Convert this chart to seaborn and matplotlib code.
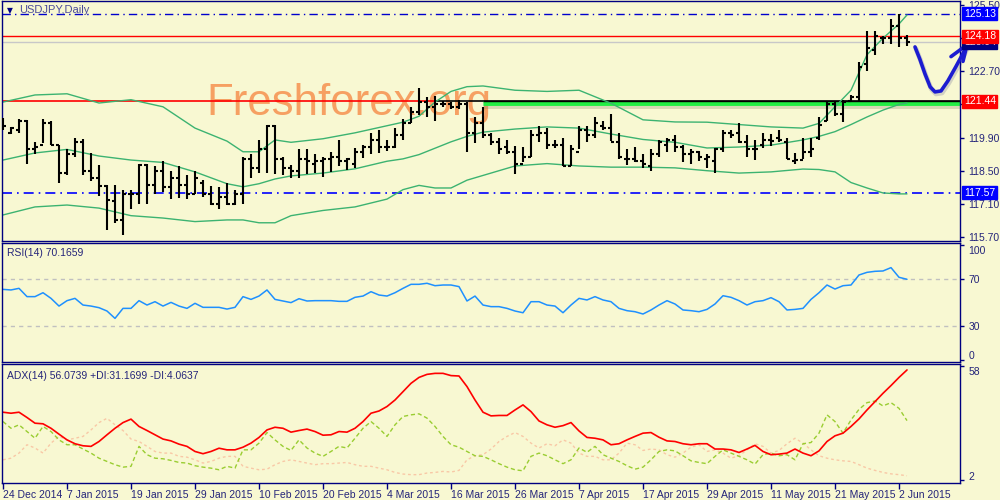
import numpy as np
import matplotlib
matplotlib.use("Agg")
import matplotlib.pyplot as plt
import matplotlib.transforms as mtransforms
import seaborn as sns

# USDJPY daily bars, 24 Dec 2014 .. 3 Jun 2015
opens = [120.6, 120.1, 120.2, 120.6, 119.4, 119.6, 120.5, 119.6, 118.4, 119.2,
         119.7, 118.5, 118.2, 117.85, 117.2, 116.4, 117.5, 117.5, 118.75, 117.9,
         118.5, 117.8, 118.2, 117.9, 117.5, 118.0, 117.5, 117.1, 117.4, 117.1,
         117.5, 119.0, 118.6, 119.4, 120.4, 119.0, 118.6, 118.5, 119.0, 118.8,
         118.9, 119.0, 119.1, 118.9, 118.8, 119.3, 119.5, 119.8, 119.5, 119.5,
         120.0, 120.5, 121.0, 121.4, 121.2, 121.3, 121.3, 121.2, 121.3, 120.1,
         120.5, 120.0, 119.7, 119.5, 119.3, 118.8, 119.1, 120.0, 120.1, 119.6,
         119.6, 118.7, 119.3, 120.2, 120.0, 120.4, 120.3, 119.7, 119.0, 119.0,
         118.9, 118.7, 119.2, 119.6, 119.8, 119.5, 119.2, 119.3, 119.0, 118.9,
         119.4, 120.1, 120.1, 119.7, 119.4, 119.6, 119.8, 119.9, 119.7, 118.9,
         118.95, 119.3, 119.9, 120.6, 121.3, 120.9, 121.45, 121.6, 123.0, 123.6,
         124.1, 124.1, 124.6, 124.1]
highs = [120.71, 120.35, 120.68, 120.64, 119.7, 120.68, 120.6, 119.6, 119.4, 119.9,
         119.84, 119.25, 118.74, 117.9, 117.9, 117.7, 117.7, 118.8, 118.78, 118.7,
         118.9, 118.5, 118.7, 118.3, 118.5, 118.1, 117.85, 117.8, 118.0, 117.7,
         119.1, 119.2, 119.8, 120.45, 120.45, 119.1, 118.75, 119.4, 119.4, 119.2,
         119.1, 119.3, 119.8, 119.05, 119.46, 119.6, 120.1, 120.2, 119.8, 120.3,
         120.7, 121.2, 122.0, 121.6, 121.65, 121.45, 121.4, 121.5, 121.4, 120.75,
         121.2, 120.1, 119.9, 119.8, 119.55, 119.5, 120.2, 120.4, 120.3, 119.8,
         119.9, 119.6, 120.4, 120.4, 120.75, 120.6, 120.9, 120.1, 119.4, 119.5,
         119.2, 119.4, 119.8, 119.9, 120.0, 119.6, 119.4, 119.35, 119.2, 119.45,
         120.2, 120.2, 120.5, 120.0, 119.8, 120.1, 120.05, 120.2, 119.9, 119.25,
         119.9, 119.9, 120.77, 121.44, 121.4, 121.49, 121.7, 123.1, 124.4, 124.4,
         124.2, 124.9, 125.13, 124.22]
lows = [120.22, 120.05, 120.1, 118.8, 119.2, 119.67, 119.6, 118.0, 118.3, 119.1,
        118.3, 118.07, 117.43, 116.0, 116.3, 115.78, 116.9, 117.1, 117.1, 117.5,
        117.6, 117.3, 117.35, 117.3, 117.5, 117.4, 117.05, 116.9, 117.05, 117.05,
        117.1, 118.2, 118.4, 118.4, 118.35, 118.3, 118.2, 118.2, 118.35, 118.4,
        118.25, 118.45, 118.7, 118.55, 118.6, 119.05, 119.2, 119.25, 119.35, 119.45,
        119.8, 120.5, 120.85, 120.75, 120.6, 121.2, 121.1, 121.1, 119.3, 119.65,
        119.9, 119.6, 119.2, 119.2, 118.35, 118.85, 119.1, 119.7, 119.4, 119.45,
        118.7, 118.7, 119.4, 119.7, 119.9, 120.2, 119.75, 119.0, 118.75, 118.85,
        118.6, 118.5, 119.1, 119.3, 119.3, 118.85, 118.8, 118.9, 118.6, 118.4,
        119.3, 119.9, 119.65, 119.1, 118.95, 119.45, 119.55, 119.7, 119.0, 118.8,
        119.0, 119.1, 119.8, 120.6, 120.8, 120.56, 121.4, 121.4, 122.7, 123.4,
        123.85, 123.85, 123.73, 123.76]
closes = [120.4, 120.3, 120.6, 119.4, 119.5, 120.5, 119.6, 118.4, 119.2, 119.7,
          118.5, 118.2, 117.85, 117.26, 116.4, 117.5, 117.5, 118.75, 117.9, 118.5,
          117.8, 118.2, 117.9, 117.5, 118.2, 117.5, 117.1, 117.4, 117.1, 117.5,
          119.0, 118.6, 119.4, 120.4, 119.0, 118.6, 118.5, 119.0, 118.9, 118.9,
          119.0, 119.1, 118.9, 119.0, 119.3, 119.5, 119.8, 119.5, 119.5, 120.0,
          120.5, 121.0, 121.4, 121.2, 121.3, 121.3, 121.2, 121.3, 120.1, 120.5,
          120.0, 119.7, 119.4, 119.3, 118.8, 119.1, 120.0, 120.1, 119.6, 119.6,
          118.7, 119.4, 120.2, 120.0, 120.5, 120.3, 119.7, 119.1, 119.0, 118.9,
          118.8, 119.2, 119.7, 119.8, 119.5, 119.2, 119.3, 119.1, 119.1, 119.4,
          120.1, 120.0, 119.7, 119.4, 119.4, 119.8, 119.75, 119.8, 119.0, 118.95,
          119.3, 119.4, 120.45, 121.3, 120.9, 121.4, 121.6, 122.9, 123.7, 124.2,
          124.1, 124.6, 124.1, 123.94]

# Bollinger bands (20), read at selected bars
bb_idx = [0, 4, 8, 12, 16, 20, 24, 28, 30, 32, 34, 36, 40, 44, 48, 50, 52, 54, 56, 58,
          60, 64, 68, 72, 76, 80, 84, 88, 92, 96, 100, 102, 104, 106, 108, 110, 112, 113]
bb_upper = [121.4, 121.7, 121.75, 121.36, 121.5, 121.2, 120.3, 119.75, 119.3, 119.3,
            119.8, 119.7, 119.85, 120.1, 120.4, 120.55, 120.8, 121.4, 121.85, 122.05,
            122.08, 121.9, 121.85, 121.9, 121.35, 120.65, 120.56, 120.55, 120.45, 120.35,
            120.3, 120.5, 121.2, 121.9, 123.4, 124.1, 124.7, 125.08]
bb_mid = [118.95, 119.25, 119.4, 119.12, 118.95, 118.85, 118.45, 117.95, 117.82, 117.95,
          118.15, 118.28, 118.4, 118.58, 118.9, 119.0, 119.18, 119.45, 119.72, 119.95,
          120.13, 120.26, 120.35, 120.3, 120.05, 119.82, 119.7, 119.46, 119.5, 119.58,
          119.8, 119.95, 120.15, 120.45, 120.77, 121.06, 121.3, 121.36]
bb_lower = [116.63, 116.97, 117.05, 116.92, 116.6, 116.5, 116.35, 116.42, 116.42, 116.3,
            116.3, 116.6, 116.82, 116.97, 117.3, 117.7, 117.88, 117.77, 117.77, 118.1,
            118.3, 118.7, 118.8, 118.7, 118.65, 118.65, 118.62, 118.5, 118.4, 118.45,
            118.57, 118.55, 118.45, 118.0, 117.77, 117.56, 117.52, 117.52]

rsi = [61.4, 60.9, 62.3, 55.1, 55.1, 58.5, 53.6, 46.9, 51.6, 53.6,
       47.8, 46.9, 45.5, 42.6, 36.2, 44.9, 44.9, 51.6, 47.8, 50.7,
       46.9, 50.1, 46.9, 44.9, 49.3, 45.8, 45.8, 45.8, 44.3, 45.8,
       55.1, 52.7, 55.6, 60.9, 52.7, 51.3, 49.9, 53.3, 51.3, 51.6,
       51.6, 51.6, 51.0, 51.0, 54.5, 55.6, 59.4, 56.5, 55.6, 58.5,
       62.3, 65.8, 65.8, 66.7, 64.6, 65.2, 65.2, 63.8, 51.3, 55.6,
       47.8, 46.4, 46.4, 44.9, 42.6, 41.1, 50.7, 50.7, 47.8, 46.9,
       41.1, 47.8, 53.6, 52.2, 55.1, 52.2, 50.7, 44.9, 42.9, 42.0,
       40.0, 43.5, 47.8, 51.6, 48.7, 43.5, 42.9, 42.0, 44.0, 48.7,
       55.9, 54.5, 51.6, 47.8, 50.7, 51.6, 54.2, 50.7, 43.5, 44.0,
       44.9, 52.7, 58.5, 65.2, 61.7, 64.6, 65.2, 73.9, 76.2, 77.1,
       77.4, 80.3, 71.9, 70.17]

adx = [35.3, 34.8, 35.3, 32.7, 29.9, 29.6, 27.4, 24.5, 21.7, 19.8,
       18.8, 18.5, 20.9, 24.2, 27.4, 30.2, 31.9, 28.3, 26.3, 24.2,
       22.1, 21.2, 19.6, 18.5, 16.0, 14.9, 16.0, 17.6, 16.8, 16.8,
       18.1, 20.1, 22.9, 26.6, 27.9, 27.4, 25.5, 26.3, 27.0, 25.8,
       24.0, 24.2, 25.8, 25.5, 27.4, 30.7, 34.8, 35.9, 38.1, 41.3,
       45.4, 49.5, 52.4, 53.9, 54.4, 54.4, 53.3, 53.1, 47.9, 41.3,
       35.3, 33.5, 33.7, 33.7, 36.4, 38.9, 35.6, 31.0, 29.1, 27.9,
       28.7, 30.2, 26.1, 22.9, 22.5, 21.7, 19.3, 19.8, 21.7, 23.4,
       25.0, 25.3, 23.0, 21.2, 20.9, 19.8, 19.3, 19.8, 19.8, 17.2,
       17.2, 16.8, 15.5, 17.2, 19.0, 16.0, 14.4, 14.7, 15.2, 17.2,
       15.2, 13.9, 16.3, 20.9, 23.7, 25.0, 28.3, 32.0, 36.4, 40.5,
       44.6, 48.4, 52.4, 56.07]
plus_di = [30.7, 27.4, 29.1, 25.8, 22.5, 28.3, 25.8, 21.7, 19.3, 19.3,
           17.2, 15.2, 12.7, 11.1, 9.5, 8.3, 8.7, 18.5, 14.4, 12.7,
           12.4, 11.6, 10.6, 10.3, 9.0, 8.3, 7.8, 7.0, 8.7, 7.8,
           16.8, 16.8, 20.1, 25.3, 21.7, 18.5, 16.5, 21.7, 17.7, 15.2,
           13.6, 16.0, 18.5, 17.7, 22.5, 27.4, 30.7, 27.4, 23.4, 29.1,
           33.2, 34.0, 34.5, 32.4, 28.3, 23.4, 19.3, 18.1, 16.0, 13.9,
           13.6, 11.9, 10.0, 8.3, 7.0, 6.5, 13.6, 15.2, 13.9, 11.9,
           10.0, 11.9, 17.7, 15.6, 18.5, 14.4, 12.7, 11.1, 9.0, 7.3,
           8.3, 11.9, 16.0, 16.8, 16.3, 13.9, 11.4, 10.6, 10.0, 13.6,
           16.8, 15.2, 13.6, 11.9, 9.8, 14.4, 15.2, 13.9, 14.4, 11.9,
           19.8, 20.4, 25.0, 34.0, 30.7, 25.0, 31.5, 36.7, 40.0, 40.8,
           38.4, 40.0, 37.2, 31.17]
minus_di = [11.9, 12.7, 15.2, 19.3, 17.7, 15.2, 20.1, 23.4, 21.7, 22.5,
            23.4, 26.6, 30.2, 32.3, 29.1, 26.3, 22.1, 20.9, 18.5, 16.0,
            15.2, 15.2, 13.6, 13.2, 11.9, 10.3, 11.1, 12.7, 13.6, 13.6,
            8.7, 7.8, 7.0, 7.3, 9.5, 11.1, 11.9, 11.1, 10.3, 9.5,
            10.0, 10.0, 10.3, 10.6, 9.5, 8.7, 8.7, 7.8, 7.0, 5.7,
            4.9, 4.6, 4.6, 5.4, 5.7, 6.2, 5.9, 6.7, 11.9, 13.9,
            14.4, 17.2, 20.9, 23.4, 25.3, 23.4, 20.1, 17.7, 19.8, 18.8,
            21.7, 20.1, 15.2, 13.6, 13.6, 11.9, 11.9, 15.2, 20.1, 19.3,
            16.5, 17.2, 16.8, 14.4, 13.2, 15.2, 18.1, 19.3, 16.0, 16.8,
            15.2, 12.7, 13.9, 16.8, 19.8, 18.5, 15.2, 16.5, 19.8, 22.5,
            20.1, 16.8, 13.9, 12.7, 11.9, 11.4, 11.1, 9.5, 7.8, 6.7,
            5.7, 5.0, 4.6, 4.06]

date_labels = ['24 Dec 2014', '7 Jan 2015', '19 Jan 2015', '29 Jan 2015', '10 Feb 2015',
               '20 Feb 2015', '4 Mar 2015', '16 Mar 2015', '26 Mar 2015', '7 Apr 2015',
               '17 Apr 2015', '29 Apr 2015', '11 May 2015', '21 May 2015', '2 Jun 2015']
date_idx = [0, 8, 16, 24, 32, 40, 48, 56, 64, 72, 80, 88, 96, 104, 112]

price_ticks = [125.50, 124.10, 122.70, 121.30, 119.90, 118.50, 117.10, 115.70]
# ticks hidden behind the level boxes carry no text
price_labels = ['125.50', '', '122.70', '', '119.90', '118.50', '117.10', '115.70']
# horizontal levels drawn by hand on the chart
level_high = 125.13
level_res = 124.18
level_bid = 123.94
level_sup = 121.44
level_low = 117.57

# hand-drawn forecast arrow (bar, price)
arrow_x = [114.0, 114.6, 115.25, 115.9, 116.5, 117.25, 118.1, 119.1, 119.9, 120.5]
arrow_y = [123.73, 123.22, 122.59, 122.04, 121.83, 121.87, 122.29, 122.89, 123.39, 123.82]
head_x = [118.5, 120.5, 120.0]
head_y = [123.32, 123.82, 123.12]

BG = '#f8f8d2'
NAVY = '#000080'
TXT = '#24247a'

sns.set_style('white', {'axes.facecolor': BG, 'figure.facecolor': BG})
plt.rcParams['font.family'] = ['Liberation Sans', 'DejaVu Sans']

fig = plt.figure(figsize=(10, 5), dpi=100)
fig.patch.set_facecolor(BG)
ax = fig.add_axes([0.002, 0.518, 0.958, 0.48])
ax_rsi = fig.add_axes([0.002, 0.276, 0.958, 0.238], sharex=ax)
ax_adx = fig.add_axes([0.002, 0.034, 0.958, 0.238], sharex=ax)

idx = np.arange(len(closes))


def nudge_labels(a, shifts):
    # move the right-hand tick labels vertically by a few pixels (MT4 keeps them inside)
    for lab, dy in zip(a.get_yticklabels(), shifts):
        lab.set_transform(lab.get_transform() +
                          mtransforms.ScaledTranslation(0, dy / 100, fig.dpi_scale_trans))


# ---- main price panel ----
ax.text(25.4, 120.85, 'Freshforex.org', color='#f6a062', fontsize=31.5,
        va='baseline', zorder=0.5)

sns.lineplot(x=bb_idx, y=bb_upper, ax=ax, color='#3cb371', lw=1)
sns.lineplot(x=bb_idx, y=bb_mid, ax=ax, color='#3cb371', lw=1)
sns.lineplot(x=bb_idx, y=bb_lower, ax=ax, color='#3cb371', lw=1)

ax.axhline(level_bid, color='#c8c8c8', lw=1, zorder=1)
ax.axhline(level_res, color='red', lw=1, zorder=1)
ax.axhline(level_high, color='#0000cd', lw=1, ls=(0, (6, 3, 1, 3)), zorder=1)
ax.axhline(level_low, color='#0000ff', lw=1.2, ls=(0, (6, 3, 1, 3)), zorder=1)
ax.hlines(level_sup, -1, 54, color='red', lw=1.2, zorder=1)
ax.hlines(level_sup, 54, 125, color='black', lw=1.2, zorder=1)
ax.hlines(level_sup - 0.16, 60, 125, color='#888870', lw=5, alpha=0.3, zorder=1)
ax.hlines(level_sup - 0.08, 60, 125, color='#22ee44', lw=3.5, zorder=1.2)
ax.hlines(level_sup + 0.01, 60, 125, color='black', lw=1, zorder=1.3)

ax.vlines(idx, lows, highs, color='black', lw=1.5, zorder=3)
ax.hlines(opens, idx - 0.42, idx, color='black', lw=1.5, zorder=3)
ax.hlines(closes, idx, idx + 0.42, color='black', lw=1.5, zorder=3)

ax.plot(arrow_x, arrow_y, color='#9999aa', lw=3.5, alpha=0.4, clip_on=False,
        transform=ax.transData + mtransforms.ScaledTranslation(1 / 100, -2 / 100, fig.dpi_scale_trans))
ax.plot(arrow_x, arrow_y, color='#1c1cd0', lw=2.6, clip_on=False, solid_capstyle='round', zorder=6)
ax.plot(head_x, head_y, color='#1c1cd0', lw=2.6, clip_on=False, solid_capstyle='round', zorder=6)

ax.set_ylim(115.53, 125.67)
ax.set_yticks(price_ticks)
ax.set_yticklabels(price_labels)
ax.yaxis.tick_right()

ytr = ax.get_yaxis_transform()
box_labels = [(level_high, '#0000ff'), (level_bid, '#000080'), (level_res, '#ff0000'),
              (level_sup, '#ff0000'), (level_low, '#0000ff')]
for k, (val, col) in enumerate(box_labels):
    ax.text(1.004, val, '%.2f' % val, transform=ytr, color='white', fontsize=7.5,
            va='center', ha='left', zorder=10 + k, clip_on=False,
            bbox=dict(boxstyle='square,pad=0.15', fc=col, ec=col))

ax.text(0.005, 0.962, '\u25bc', transform=ax.transAxes, color=NAVY, fontsize=5.5,
        va='center', family='DejaVu Sans')
ax.text(0.018, 0.962, 'USDJPY,Daily', transform=ax.transAxes, color='#4a4a9a',
        fontsize=8, va='center')

# ---- RSI panel ----
ax_rsi.axhline(70, color='#c0c0c0', lw=1, ls=(0, (3, 3)))
ax_rsi.axhline(30, color='#c0c0c0', lw=1, ls=(0, (3, 3)))
sns.lineplot(x=idx, y=rsi, ax=ax_rsi, color='#1e90ff', lw=1.1)
ax_rsi.set_ylim(-1.7, 101.7)
ax_rsi.set_yticks([0, 30, 70, 100])
ax_rsi.set_yticklabels(['0', '30', '70', '100'])
ax_rsi.yaxis.tick_right()
ax_rsi.text(0.005, 0.915, 'RSI(14) 70.1659', transform=ax_rsi.transAxes, color=TXT,
            fontsize=7.5, va='center')

# ---- ADX panel ----
sns.lineplot(x=idx, y=minus_di, ax=ax_adx, color='#f8c8a6', lw=1, ls=(0, (2, 2)))
sns.lineplot(x=idx, y=plus_di, ax=ax_adx, color='#9acd32', lw=1, ls=(0, (3, 2)))
sns.lineplot(x=idx, y=adx, ax=ax_adx, color='#ff0000', lw=1.2)
ax_adx.set_ylim(0.5, 59.0)
ax_adx.set_yticks([2, 58])
ax_adx.set_yticklabels(['2', '58'])
ax_adx.yaxis.tick_right()
ax_adx.text(0.005, 0.9, 'ADX(14) 56.0739 +DI:31.1699 -DI:4.0637', transform=ax_adx.transAxes,
            color=TXT, fontsize=7.5, va='center')

ax_adx.set_xlim(-0.125, 119.625)
ax_adx.set_xticks(date_idx)
ax_adx.set_xticklabels(date_labels)
for lab in ax_adx.get_xticklabels():
    lab.set_ha('left')

for a in (ax, ax_rsi, ax_adx):
    a.set_facecolor(BG)
    a.set_xlabel('')
    a.set_ylabel('')
    for sp in a.spines.values():
        sp.set_color(NAVY)
        sp.set_linewidth(1.0)
    a.tick_params(axis='y', which='both', right=True, left=False, direction='out',
                  length=3, width=1, color=NAVY, labelcolor=TXT, labelsize=7.5, pad=3)
    a.tick_params(axis='x', bottom=False, labelbottom=False)
    a.grid(False)

ax_adx.tick_params(axis='x', bottom=True, labelbottom=True, direction='out', length=4,
                   width=1, color=NAVY, labelcolor=TXT, labelsize=7.5, pad=1)

nudge_labels(ax_rsi, [5, 0, 0, -5])
nudge_labels(ax_adx, [4, -5])

fig.savefig('out.png', dpi=100, facecolor=BG)
